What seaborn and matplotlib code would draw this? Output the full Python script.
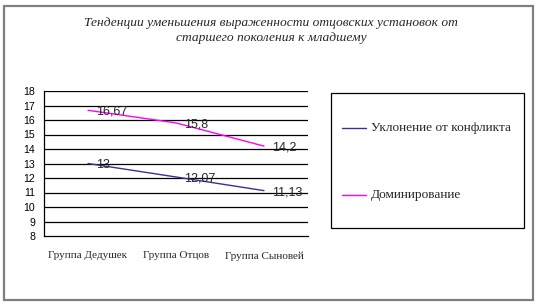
import matplotlib
matplotlib.use("Agg")
import matplotlib.pyplot as plt
import seaborn as sns
import pandas as pd
from matplotlib.patches import Rectangle

categories = ["Группа Дедушек", "Группа Отцов", "Группа Сыновей"]
avoid = [13, 12.07, 11.13]
dominate = [16.67, 15.8, 14.2]
series_names = ["Уклонение от конфликта", "Доминирование"]
title = "Тенденции уменьшения выраженности отцовских установок от\nстаршего поколения к младшему"

rows = []
for name, vals in zip(series_names, [avoid, dominate]):
    for i, (c, v) in enumerate(zip(categories, vals)):
        rows.append({"cat": c, "x": i, "value": v, "series": name})
df = pd.DataFrame(rows)

sns.set_style("white")
W, H = 539, 305
fig = plt.figure(figsize=(W / 100, H / 100), dpi=100)

# outer border
fig.patches.append(Rectangle((4 / W, 5 / H), 529 / W, 294 / H, transform=fig.transFigure,
                             fill=False, edgecolor="#808080", linewidth=1.6))

ax = fig.add_axes([44 / W, (H - 236) / H, (308 - 44) / W, (236 - 91) / H])
palette = {series_names[0]: "#333399", series_names[1]: "#FF00FF"}
sns.lineplot(data=df, x="x", y="value", hue="series", palette=palette, ax=ax,
             linewidth=1.0, legend=False, marker=None)

ax.set_xlim(-0.5, 2.5)
ax.set_ylim(8, 18)
ax.set_yticks(range(8, 19))
ax.set_yticklabels([str(v) for v in range(8, 19)], fontsize=7.6, family="Liberation Sans")
ax.set_xticks([-0.5, 0.5, 1.5, 2.5], minor=False)
ax.set_xticklabels([])
ax.set_xticks([0, 1, 2], minor=True)
ax.set_xticklabels(categories, minor=True, fontsize=8, family="Liberation Serif")
ax.tick_params(axis="x", which="minor", length=0, pad=11)
ax.tick_params(axis="x", which="major", length=4, width=0.8, direction="out", colors="black")
ax.tick_params(axis="y", length=4, width=0.8, direction="out", pad=2.5, colors="black")
ax.set_xlabel("")
ax.set_ylabel("")
for y in range(9, 19):
    ax.axhline(y, color="black", linewidth=0.9, zorder=0)
for s in ["top", "right"]:
    ax.spines[s].set_visible(False)
for s in ["left", "bottom"]:
    ax.spines[s].set_color("black")
    ax.spines[s].set_linewidth(0.9)

for vals in [avoid, dominate]:
    for i, v in enumerate(vals):
        ax.annotate(f"{v:g}".replace(".", ","), (i, v), xytext=(6, -1), textcoords="offset points",
                    va="center", ha="left", fontsize=9, family="Liberation Sans")

fig.text(271 / W, 1 - 30.5 / H, title, ha="center", va="center", fontsize=9.7,
         family="Liberation Serif", style="italic", linespacing=1.3)

# legend box
fig.patches.append(Rectangle((331 / W, (H - 228) / H), 193 / W, 135 / H, transform=fig.transFigure,
                             fill=False, edgecolor="black", linewidth=0.9))
for yy, name in zip([128, 195], series_names):
    fig.lines.append(plt.Line2D([342 / W, 366 / W], [(H - yy) / H] * 2, transform=fig.transFigure,
                                color=palette[name], linewidth=1.0))
    fig.text(371 / W, (H - yy) / H, name, ha="left", va="center", fontsize=9.6,
             family="Liberation Serif")

fig.savefig("out.png", dpi=100)
